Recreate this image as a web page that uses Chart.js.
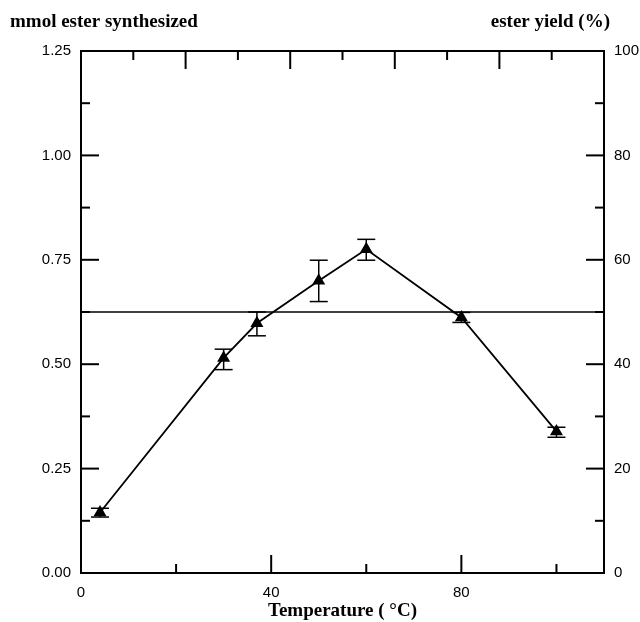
<!DOCTYPE html>
<html>
<head>
<meta charset="utf-8">
<script src="https://cdn.jsdelivr.net/npm/chart.js@4.4.0/dist/chart.umd.min.js"></script>
<style>
html, body { margin: 0; padding: 0; background: #fff; }
#wrap { width: 640px; height: 622px; }
</style>
</head>
<body>
<div id="wrap"><canvas id="chart-area" width="640" height="622"></canvas></div>
<script>
// temperature (deg C) and mmol ester synthesized, with error bar ends
var temps = [4, 30, 37, 50, 60, 80, 100];
var esterMmol = [0.145, 0.515, 0.598, 0.700, 0.775, 0.612, 0.339];
var errLow = [0.134, 0.487, 0.568, 0.650, 0.749, 0.600, 0.325];
var errHigh = [0.155, 0.536, 0.625, 0.749, 0.799, 0.624, 0.349];

// 50 % yield reference line
var refX = [0, 110];
var refY = [0.625, 0.625];

var xTickLabels = [0, 40, 80];
var xMinorTicks = [20, 60, 100];
var yMinorTicks = [0.125, 0.375, 0.625, 0.875, 1.125];
var y2MinorTicks = [10, 30, 50, 70, 90];

var black = "#000";
var labelFont = { family: "'Liberation Sans', Arial, sans-serif", size: 15 };
var serifBold = "'Liberation Serif', 'Times New Roman', serif";

var mainPoints = temps.map(function(t, i) { return { x: t, y: esterMmol[i] }; });
var refPoints = refX.map(function(t, i) { return { x: t, y: refY[i] }; });

function tick(ctx, x1, y1, x2, y2) {
    ctx.beginPath();
    ctx.moveTo(x1, y1);
    ctx.lineTo(x2, y2);
    ctx.stroke();
}

var framePlugin = {
    id: 'frame',
    beforeDatasetsDraw: function(chart) {
        var ctx = chart.ctx, a = chart.chartArea;
        var x = chart.scales.x, y = chart.scales.y, y2 = chart.scales.y2;
        var big = 18, small = 9;
        ctx.save();
        ctx.strokeStyle = black;
        ctx.lineWidth = 2;
        // top border
        tick(ctx, a.left - 1, a.top, a.right + 1, a.top);
        // bottom ticks (inward)
        xTickLabels.forEach(function(v) {
            if (v === 0) return;
            var px = x.getPixelForValue(v);
            tick(ctx, px, a.bottom, px, a.bottom - big);
        });
        xMinorTicks.forEach(function(v) {
            var px = x.getPixelForValue(v);
            tick(ctx, px, a.bottom, px, a.bottom - small);
        });
        // top ticks: 10 even intervals, alternating short / long
        for (var i = 1; i < 10; i++) {
            var px = x.getPixelForValue(i * 11);
            tick(ctx, px, a.top, px, a.top + (i % 2 === 0 ? big : small));
        }
        // left ticks
        y.ticks.forEach(function(t) {
            if (t.value === 0 || t.value === 1.25) return;
            var py = y.getPixelForValue(t.value);
            tick(ctx, a.left, py, a.left + big, py);
        });
        yMinorTicks.forEach(function(v) {
            var py = y.getPixelForValue(v);
            tick(ctx, a.left, py, a.left + small, py);
        });
        // right ticks
        y2.ticks.forEach(function(t) {
            if (t.value === 0 || t.value === 100) return;
            var py = y2.getPixelForValue(t.value);
            tick(ctx, a.right, py, a.right - big, py);
        });
        y2MinorTicks.forEach(function(v) {
            var py = y2.getPixelForValue(v);
            tick(ctx, a.right, py, a.right - small, py);
        });
        ctx.restore();
    },
    afterDatasetsDraw: function(chart) {
        var ctx = chart.ctx;
        var x = chart.scales.x, y = chart.scales.y;
        ctx.save();
        ctx.strokeStyle = black;
        ctx.lineWidth = 1.5;
        temps.forEach(function(t, i) {
            var px = x.getPixelForValue(t);
            var pLo = y.getPixelForValue(errLow[i]);
            var pHi = y.getPixelForValue(errHigh[i]);
            tick(ctx, px, pLo, px, pHi);
            tick(ctx, px - 9, pLo, px + 9, pLo);
            tick(ctx, px - 9, pHi, px + 9, pHi);
        });
        ctx.restore();
    },
    afterDraw: function(chart) {
        var ctx = chart.ctx, a = chart.chartArea;
        ctx.save();
        ctx.fillStyle = black;
        ctx.font = "bold 19px " + serifBold;
        ctx.textBaseline = "alphabetic";
        ctx.textAlign = "left";
        ctx.fillText("mmol ester synthesized", 10, 27);
        ctx.textAlign = "right";
        ctx.fillText("ester yield (%)", a.right + 6, 27);
        ctx.restore();
    }
};

var config = {
    type: 'scatter',
    data: {
        datasets: [{
            data: mainPoints,
            showLine: true,
            borderColor: black,
            borderWidth: 1.8,
            backgroundColor: black,
            pointStyle: 'triangle',
            pointRadius: 7.5,
            pointBorderWidth: 0,
            yAxisID: 'y'
        }, {
            data: refPoints,
            showLine: true,
            borderColor: black,
            borderWidth: 1.5,
            pointRadius: 0,
            yAxisID: 'y'
        }]
    },
    options: {
        responsive: false,
        animation: { duration: 0 },
        layout: { padding: { top: 51, left: 0, right: 0, bottom: 0 } },
        plugins: {
            legend: { display: false },
            tooltip: { enabled: false }
        },
        scales: {
            x: {
                type: 'linear',
                position: 'bottom',
                min: 0,
                max: 110,
                afterBuildTicks: function(s) {
                    s.ticks = xTickLabels.map(function(v) { return { value: v }; });
                },
                afterFit: function(s) { s.height = 49; },
                grid: { display: false },
                border: { display: true, color: black, width: 2 },
                ticks: { color: black, font: labelFont, padding: 3, maxRotation: 0 },
                title: {
                    display: true,
                    text: 'Temperature ( °C)',
                    color: black,
                    font: { family: serifBold, size: 19, weight: 'bold' },
                    padding: { top: 0, bottom: 0 }
                }
            },
            y: {
                type: 'linear',
                position: 'left',
                min: 0,
                max: 1.25,
                afterFit: function(s) { s.width = 81; },
                grid: { display: false },
                border: { display: true, color: black, width: 2 },
                ticks: {
                    stepSize: 0.25,
                    color: black,
                    font: labelFont,
                    padding: 2,
                    callback: function(v) { return v.toFixed(2); }
                }
            },
            y2: {
                type: 'linear',
                position: 'right',
                min: 0,
                max: 100,
                afterFit: function(s) { s.width = 36; },
                grid: { display: false },
                border: { display: true, color: black, width: 2 },
                ticks: { stepSize: 20, color: black, font: labelFont, padding: 2 }
            }
        }
    },
    plugins: [framePlugin]
};

var ctx = document.getElementById("chart-area").getContext("2d");
var myChart = new Chart(ctx, config);
</script>
</body>
</html>
